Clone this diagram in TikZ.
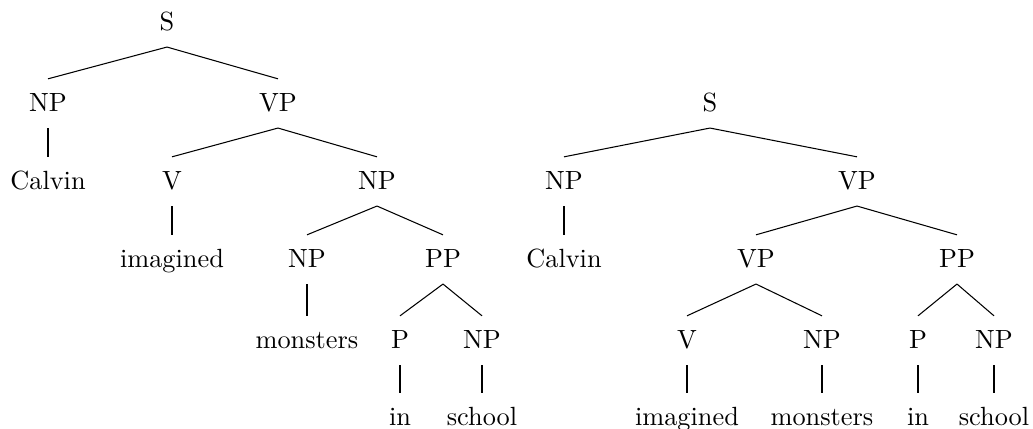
\documentclass[tikz,border=0pt]{standalone}
\usepackage{tikz}

\begin{document}
\begin{tikzpicture}[x=0.38pt, y=-0.38pt,
    every node/.style={anchor=base, inner xsep=0pt, inner ysep=3.4pt,
                       text height=9pt, text depth=2.5pt}]
    \useasboundingbox (0,0) rectangle (1033,429);

    % first reading: PP inside the object NP
    \node (s1) at (167,31) {S};
    \node (np1) at (48,112) {NP};
    \node (vp1) at (278,112) {VP};
    \node (calvin1) at (48,190) {Calvin};
    \node (v1) at (172,190) {V};
    \node (np2) at (377,190) {NP};
    \node (imagined1) at (172,268) {imagined};
    \node (np3) at (307,268) {NP};
    \node (pp1) at (443,268) {PP};
    \node (monsters1) at (307,349) {monsters};
    \node (p1) at (400,349) {P};
    \node (np4) at (482,349) {NP};
    \node (in1) at (400,426) {in};
    \node (school1) at (482,426) {school};

    % second reading: PP attached to the VP
    \node (s2) at (710,112) {S};
    \node (np5) at (564,190) {NP};
    \node (vp2) at (857,190) {VP};
    \node (calvin2) at (564,268) {Calvin};
    \node (vp3) at (756,268) {VP};
    \node (pp2) at (957,268) {PP};
    \node (v2) at (687,349) {V};
    \node (np6) at (822,349) {NP};
    \node (p2) at (918,349) {P};
    \node (np7) at (994,349) {NP};
    \node (imagined2) at (687,426) {imagined};
    \node (monsters2) at (822,426) {monsters};
    \node (in2) at (918,426) {in};
    \node (school2) at (994,426) {school};

    \path
      (s1.south) edge (np1.north)
          (s1.south) edge (vp1.north)
      (np1.south) edge (calvin1.north)
      (vp1.south) edge (v1.north)
          (vp1.south) edge (np2.north)
      (v1.south) edge (imagined1.north)
      (np2.south) edge (np3.north)
          (np2.south) edge (pp1.north)
      (np3.south) edge (monsters1.north)
      (pp1.south) edge (p1.north)
          (pp1.south) edge (np4.north)
      (p1.south) edge (in1.north)
      (np4.south) edge (school1.north);

    \path
      (s2.south) edge (np5.north)
          (s2.south) edge (vp2.north)
      (np5.south) edge (calvin2.north)
      (vp2.south) edge (vp3.north)
          (vp2.south) edge (pp2.north)
      (vp3.south) edge (v2.north)
          (vp3.south) edge (np6.north)
      (pp2.south) edge (p2.north)
          (pp2.south) edge (np7.north)
      (v2.south) edge (imagined2.north)
      (np6.south) edge (monsters2.north)
      (p2.south) edge (in2.north)
      (np7.south) edge (school2.north);
\end{tikzpicture}
\end{document}
